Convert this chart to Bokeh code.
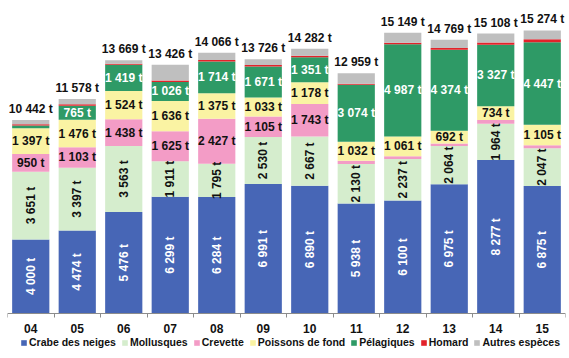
from math import pi

from bokeh.plotting import figure
from bokeh.models import (ColumnDataSource, Range1d, LinearAxis, FixedTicker,
                          CustomJSTickFormatter, Legend, LegendItem)
from bokeh.core.properties import value
from bokeh.embed import file_html
from bokeh.resources import INLINE

# Landings by species group (tonnes), 2004-2015
years = ["04", "05", "06", "07", "08", "09", "10", "11", "12", "13", "14", "15"]
crabe = [4000, 4474, 5476, 6299, 6284, 6991, 6890, 5938, 6100, 6975, 8277, 6875]
mollusques = [3651, 3397, 3563, 1911, 1795, 2530, 2667, 2130, 2237, 2064, 1964, 2047]
crevette = [950, 1103, 1438, 1625, 2427, 1105, 1743, 170, 150, 134, 205, 160]
poissons = [1397, 1476, 1524, 1636, 1375, 1033, 1178, 1032, 1061, 692, 734, 1105]
pelagiques = [150, 765, 1419, 1026, 1714, 1671, 1351, 3074, 4987, 4374, 3327, 4447]
homard = [70, 80, 60, 70, 80, 80, 80, 60, 70, 90, 110, 170]
autres = [224, 283, 189, 859, 391, 316, 373, 555, 544, 440, 491, 470]

series_names = ["Crabe des neiges", "Mollusques", "Crevette", "Poissons de fond",
                "Pélagiques", "Homard", "Autres espèces"]
series_values = [crabe, mollusques, crevette, poissons, pelagiques, homard, autres]
colors = ["#4766b6", "#d5edcd", "#f39cc6", "#faf3a3", "#2e9a66", "#e3222a", "#bfbfbf"]
label_colors = ["white", "#111111", "#111111", "#111111", "white", None, None]
vertical = [True, True, False, False, False, False, False]

FONT = value("Liberation Sans")


def fmt(v):
    return f"{v:,}".replace(",", " ") + " t"


xs = [i + 0.5 for i in range(len(years))]
keys = [f"s{i}" for i in range(len(series_names))]
data = {"x": xs}
for k, vals in zip(keys, series_values):
    data[k] = vals
src = ColumnDataSource(data)

totals = [sum(col) for col in zip(*series_values)]

# The frame runs to the bottom of the page; the space under zero holds the
# category labels and the legend.
p = figure(width=569, height=358, output_backend="svg", toolbar_location=None,
           x_range=Range1d(0, len(years)), y_range=Range1d(-2428, 16890),
           x_axis_type=None, y_axis_type=None,
           min_border_left=7, min_border_right=4, min_border_top=0, min_border_bottom=0)
p.outline_line_color = None
p.grid.visible = False
p.background_fill_color = "white"

renderers = p.vbar_stack(keys, x="x", width=0.8, color=colors, line_color=None, source=src)

# Values inside the segments
bottom = [0] * len(years)
for vals, col, vert in zip(series_values, label_colors, vertical):
    if col is not None:
        lx, ly, lt = [], [], []
        for i, v in enumerate(vals):
            if v >= 500:
                lx.append(xs[i])
                ly.append(bottom[i] + v / 2)
                lt.append(fmt(v))
        p.text(x=lx, y=ly, text=lt, angle=pi / 2 if vert else 0,
               text_align="center", text_baseline="middle",
               text_font=FONT, text_font_style="bold", text_font_size="12px",
               text_color=col)
    bottom = [b + v for b, v in zip(bottom, vals)]

# Totals above each bar
p.text(x=xs, y=totals, text=[fmt(t) for t in totals], y_offset=-4,
       text_align="center", text_baseline="bottom",
       text_font=FONT, text_font_style="bold", text_font_size="12px",
       text_color="#111111")

xaxis = LinearAxis(
    fixed_location=0,
    ticker=FixedTicker(ticks=xs, minor_ticks=list(range(len(years) + 1))),
    formatter=CustomJSTickFormatter(args=dict(labels=years),
                                    code="return labels[Math.floor(tick)] || ''"),
)
xaxis.axis_line_color = "#8c8c8c"
xaxis.major_tick_line_color = None
xaxis.minor_tick_line_color = "#8c8c8c"
xaxis.minor_tick_out = 4
xaxis.minor_tick_in = 0
xaxis.major_tick_out = 0
xaxis.major_tick_in = 0
xaxis.major_label_text_font = "Liberation Sans"
xaxis.major_label_text_font_style = "bold"
xaxis.major_label_text_font_size = "12px"
xaxis.major_label_text_color = "#111111"
xaxis.major_label_standoff = 6
p.add_layout(xaxis, "below")

# Horizontal legend under the category labels
legend = Legend(items=[LegendItem(label=n, renderers=[r]) for n, r in zip(series_names, renderers)],
                orientation="horizontal", location=(13, 10),
                glyph_width=7, glyph_height=7, label_standoff=2, spacing=5,
                padding=0, margin=0, border_line_color=None, background_fill_alpha=0,
                label_text_font="Liberation Sans", label_text_font_style="bold",
                label_text_font_size="10.5px", label_text_color="#111111",
                label_height=12)
p.add_layout(legend, "center")

open("out.html", "w").write(file_html(p, INLINE))
